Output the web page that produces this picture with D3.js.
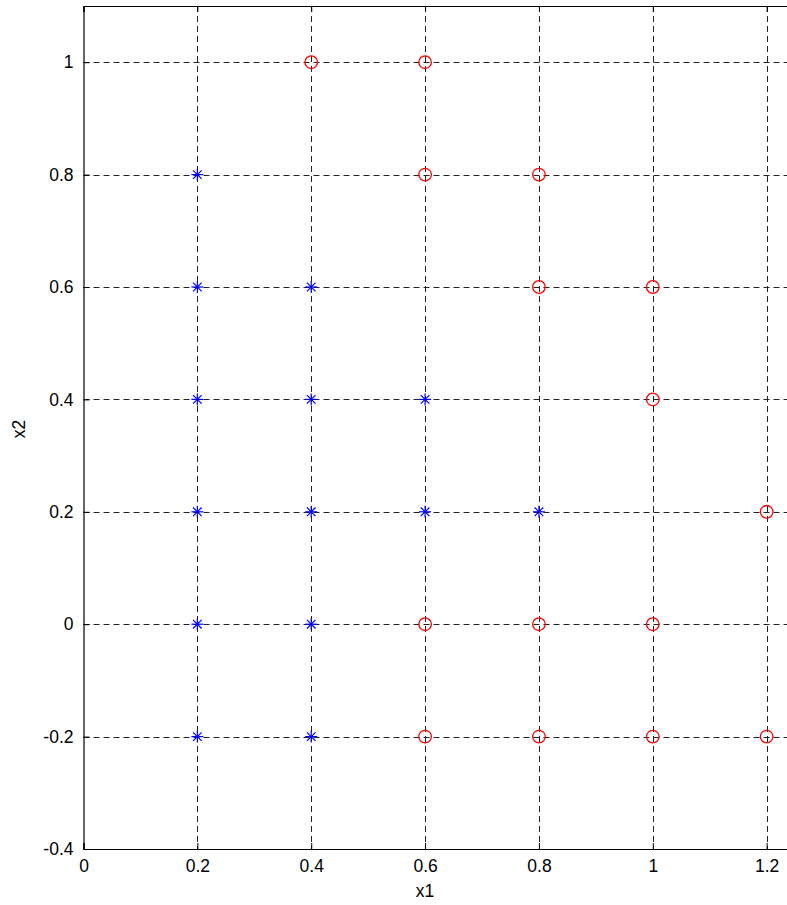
<!DOCTYPE html>
<html><head><meta charset="utf-8">
<script src="https://cdn.jsdelivr.net/npm/d3@7"></script>
<style>body{margin:0;background:#fff;} svg{display:block;}</style>
</head><body>
<svg id="chart" width="787" height="905"></svg>
<script>
const xTicks = [0, 0.2, 0.4, 0.6, 0.8, 1, 1.2];
const yTicks = [-0.4, -0.2, 0, 0.2, 0.4, 0.6, 0.8, 1];
const starX = [0.2, 0.2, 0.4, 0.2, 0.4, 0.6, 0.2, 0.4, 0.6, 0.8, 0.2, 0.4, 0.2, 0.4];
const starY = [0.8, 0.6, 0.6, 0.4, 0.4, 0.4, 0.2, 0.2, 0.2, 0.2, 0, 0, -0.2, -0.2];
const circX = [0.4, 0.6, 0.6, 0.8, 0.8, 1, 1, 1.2, 0.6, 0.8, 1, 0.6, 0.8, 1, 1.2];
const circY = [1, 1, 0.8, 0.8, 0.6, 0.6, 0.4, 0.2, 0, 0, 0, -0.2, -0.2, -0.2, -0.2];

const svg = d3.select("#chart");
const L = 83.5, T = 6, B = 849;
const x = d3.scaleLinear().domain([0, 1.3]).range([L, L + 1.3 * 569.3]);
const y = d3.scaleLinear().domain([-0.4, 1.1]).range([B, T]);
const R = x(1.3);
const font = "'Liberation Sans', Arial, sans-serif";
const fs = 17.5;

// grid
const g = svg.append("g");
g.selectAll(".vg").data(xTicks.filter(d => d > 0)).join("line")
  .attr("x1", d => Math.round(x(d)) + 0.5).attr("x2", d => Math.round(x(d)) + 0.5)
  .attr("y1", T).attr("y2", B)
  .attr("stroke", "#222").attr("stroke-width", 1).attr("stroke-dasharray", "6,4");
g.selectAll(".hg").data(yTicks.filter(d => d > -0.4)).join("line")
  .attr("x1", L).attr("x2", R)
  .attr("y1", d => Math.round(y(d)) + 0.5).attr("y2", d => Math.round(y(d)) + 0.5)
  .attr("stroke", "#222").attr("stroke-width", 1).attr("stroke-dasharray", "6,4");

// axes
const xAxis = d3.axisBottom(x).tickValues(xTicks).tickSize(-6).tickPadding(10).tickFormat(d3.format("~g"));
const ax = svg.append("g").attr("transform", `translate(0,${B})`).call(xAxis);
const xAxisTop = d3.axisTop(x).tickValues(xTicks).tickSize(-6).tickFormat("");
const axt = svg.append("g").attr("transform", `translate(0,${T})`).call(xAxisTop);
const yAxis = d3.axisLeft(y).tickValues(yTicks).tickSize(-6).tickPadding(10).tickFormat(d3.format("~g"));
const ay = svg.append("g").attr("transform", `translate(${L},0)`).call(yAxis);
[ax, axt, ay].forEach(a => {
  a.select(".domain").attr("stroke", "#000").attr("stroke-width", 1.2);
  a.selectAll(".tick line").attr("stroke", "#000").attr("stroke-width", 1);
  a.selectAll("text").attr("font-family", font).attr("font-size", fs).attr("fill", "#000");
});
ay.selectAll("text").text(d => d3.format("~g")(d).replace("−", "-"));
ax.selectAll("text").attr("dy", "0.72em");

// labels
svg.append("text").attr("x", x(0.6)).attr("y", 897).attr("text-anchor", "middle")
  .attr("font-family", font).attr("font-size", fs).text("x1");
svg.append("text").attr("transform", `translate(25,429) rotate(-90)`).attr("text-anchor", "middle")
  .attr("font-family", font).attr("font-size", fs).text("x2");

// stars
const stars = svg.append("g");
const s = 6, sd = 4.3;
starX.forEach((d, i) => {
  const cx = x(d), cy = y(starY[i]);
  const gg = stars.append("g").attr("transform", `translate(${cx},${cy})`)
    .attr("stroke", "#0000ff").attr("stroke-width", 1.2);
  gg.append("line").attr("x1", -s).attr("x2", s).attr("y1", 0).attr("y2", 0);
  gg.append("line").attr("x1", 0).attr("x2", 0).attr("y1", -s).attr("y2", s);
  gg.append("line").attr("x1", -sd).attr("x2", sd).attr("y1", -sd).attr("y2", sd);
  gg.append("line").attr("x1", -sd).attr("x2", sd).attr("y1", sd).attr("y2", -sd);
});

// circles
svg.append("g").selectAll("circle").data(circX).join("circle")
  .attr("cx", d => x(d)).attr("cy", (d, i) => y(circY[i])).attr("r", 6.3)
  .attr("fill", "none").attr("stroke", "#ff0000").attr("stroke-width", 1.3);
</script>
</body></html>
